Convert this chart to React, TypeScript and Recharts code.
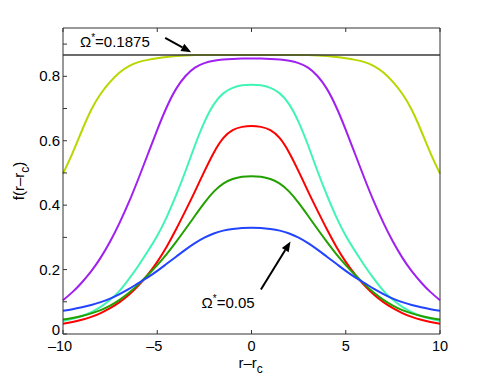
import React from "react";
import { LineChart, Line, XAxis, YAxis, ReferenceLine, ReferenceDot } from "recharts";

// r - r_c sample positions
const R = [
  -10, -9.5, -9, -8.5, -8, -7.5, -7, -6.5, -6, -5.5, -5, -4.5, -4, -3.5, -3, -2.5, -2, -1.5, -1, -0.5,
  0, 0.5, 1, 1.5, 2, 2.5, 3, 3.5, 4, 4.5, 5, 5.5, 6, 6.5, 7, 7.5, 8, 8.5, 9, 9.5, 10,
];

// profiles, widest (top) to narrowest (bottom)
const YELLOW = [
  0.498, 0.561, 0.631, 0.696, 0.746, 0.783, 0.812, 0.832, 0.844, 0.851, 0.856, 0.86, 0.863, 0.865, 0.866, 0.866, 0.866, 0.866, 0.866, 0.866,
  0.866, 0.866, 0.866, 0.866, 0.866, 0.866, 0.866, 0.865, 0.863, 0.86, 0.856, 0.851, 0.844, 0.832, 0.812, 0.783, 0.746, 0.696, 0.631, 0.561, 0.498,
];
const PURPLE = [
  0.105, 0.13, 0.16, 0.195, 0.237, 0.287, 0.345, 0.41, 0.482, 0.558, 0.634, 0.704, 0.761, 0.801, 0.827, 0.841, 0.848, 0.852, 0.854, 0.855,
  0.855, 0.855, 0.854, 0.852, 0.848, 0.841, 0.827, 0.801, 0.761, 0.704, 0.634, 0.558, 0.482, 0.41, 0.345, 0.287, 0.237, 0.195, 0.16, 0.13, 0.105,
];
const CYAN = [
  0.04, 0.047, 0.056, 0.068, 0.084, 0.106, 0.134, 0.171, 0.212, 0.257, 0.305, 0.363, 0.431, 0.506, 0.586, 0.658, 0.713, 0.747, 0.764, 0.772,
  0.774, 0.772, 0.764, 0.747, 0.713, 0.658, 0.586, 0.506, 0.431, 0.363, 0.305, 0.257, 0.212, 0.171, 0.134, 0.106, 0.084, 0.068, 0.056, 0.047, 0.04,
];
const RED = [
  0.032, 0.037, 0.044, 0.053, 0.065, 0.08, 0.099, 0.122, 0.15, 0.184, 0.224, 0.271, 0.325, 0.383, 0.443, 0.505, 0.563, 0.608, 0.633, 0.643,
  0.646, 0.643, 0.633, 0.608, 0.563, 0.505, 0.443, 0.383, 0.325, 0.271, 0.224, 0.184, 0.15, 0.122, 0.099, 0.08, 0.065, 0.053, 0.044, 0.037, 0.032,
];
const GREEN = [
  0.045, 0.05, 0.056, 0.064, 0.074, 0.088, 0.106, 0.128, 0.154, 0.183, 0.214, 0.248, 0.286, 0.326, 0.367, 0.407, 0.442, 0.467, 0.481, 0.488,
  0.49, 0.488, 0.481, 0.467, 0.442, 0.407, 0.367, 0.326, 0.286, 0.248, 0.214, 0.183, 0.154, 0.128, 0.106, 0.088, 0.074, 0.064, 0.056, 0.05, 0.045,
];
const BLUE = [
  0.072, 0.077, 0.083, 0.09, 0.099, 0.11, 0.124, 0.14, 0.158, 0.176, 0.196, 0.218, 0.24, 0.262, 0.282, 0.299, 0.312, 0.321, 0.326, 0.329,
  0.33, 0.329, 0.326, 0.321, 0.312, 0.299, 0.282, 0.262, 0.24, 0.218, 0.196, 0.176, 0.158, 0.14, 0.124, 0.11, 0.099, 0.09, 0.083, 0.077, 0.072,
];

const LIMIT = 0.866; // Ω* = 0.1875 level

const X_TICKS = [-10, -5, 0, 5, 10];
const X_TICK_LABELS = ["\u201310", "\u20135", "0", "5", "10"];
const Y_TICKS = [0, 0.1, 0.2, 0.3, 0.4, 0.5, 0.6, 0.7, 0.8, 0.9];
const Y_TICK_LABELS = ["0", "", "0.2", "", "0.4", "", "0.6", "", "0.8", ""];

const SERIES = [
  { key: "yellow", values: YELLOW, color: "#b9d600" },
  { key: "purple", values: PURPLE, color: "#a020f0" },
  { key: "cyan", values: CYAN, color: "#40f5b4" },
  { key: "red", values: RED, color: "#ff0000" },
  { key: "green", values: GREEN, color: "#22a000" },
  { key: "blue", values: BLUE, color: "#2244ff" },
];

const data = R.map((r, i) => {
  const row: Record<string, number> = { r };
  SERIES.forEach((s) => (row[s.key] = s.values[i]));
  return row;
});

const FONT = "'Liberation Sans', Arial, Helvetica, sans-serif";
const AXIS = "#333";

function Arrow(props: any) {
  const { x1, y1, x2, y2 } = props;
  const a = Math.atan2(y2 - y1, x2 - x1);
  const len = 10;
  const half = 4;
  const bx = x2 - len * Math.cos(a);
  const by = y2 - len * Math.sin(a);
  const pts = [
    [x2, y2],
    [bx + half * Math.sin(a), by - half * Math.cos(a)],
    [bx - half * Math.sin(a), by + half * Math.cos(a)],
  ]
    .map((p) => p.join(","))
    .join(" ");
  return (
    <g>
      <line x1={x1} y1={y1} x2={bx} y2={by} stroke="#000" strokeWidth={2} />
      <polygon points={pts} fill="#000" />
    </g>
  );
}

const omegaLabel = (value: string) => (props: any) => (
  <text x={props.cx} y={props.cy} fontFamily={FONT} fontSize={15} fill="#000">
    <tspan>Ω</tspan>
    <tspan dy={-6} fontSize={10}>*</tspan>
    <tspan dy={6}>={value}</tspan>
  </text>
);

function XTick(props: any) {
  const { x, y, payload, index } = props;
  const neg = payload.value < 0;
  return (
    <text x={x + (neg ? -3 : 0)} y={y + 15} textAnchor="middle" fontFamily={FONT} fontSize={14.5} fill="#000">
      {X_TICK_LABELS[index]}
    </text>
  );
}

function YTick(props: any) {
  const { x, y, payload, index } = props;
  const lift = payload.value === 0 ? -4 : 0;
  return (
    <text x={x} y={y + lift + 5} textAnchor="end" fontFamily={FONT} fontSize={15} fill="#000">
      {Y_TICK_LABELS[index]}
    </text>
  );
}

export default function App() {
  return (
    <div style={{ position: "absolute", left: 0, top: 0, background: "#fff" }}>
      <LineChart width={485} height={380} data={data} margin={{ top: 0, right: 0, bottom: 0, left: 0 }}>
        <XAxis
          dataKey="r"
          type="number"
          domain={[-10, 10]}
          ticks={X_TICKS}
          height={46}
          tickSize={-4}
          tickMargin={6}
          stroke={AXIS}
          tick={<XTick />}
          label={{
            content: (p: any) => {
              const vb = p.viewBox;
              const cx = vb.x + vb.width / 2;
              return (
                <text x={cx - 13} y={vb.y + 34} fontFamily={FONT} fontSize={15} fill="#000">
                  <tspan>r–r</tspan>
                  <tspan dy={5} fontSize={12}>c</tspan>
                </text>
              );
            },
          }}
        />
        <XAxis
          xAxisId="top"
          orientation="top"
          dataKey="r"
          type="number"
          domain={[-10, 10]}
          ticks={X_TICKS}
          tickFormatter={() => ""}
          height={28}
          tickSize={-4}
          stroke={AXIS}
        />
        <YAxis
          type="number"
          domain={[0, 0.95]}
          ticks={Y_TICKS}
          width={63}
          tickSize={-4}
          tickMargin={7}
          stroke={AXIS}
          tick={<YTick />}
          label={{
            content: () => (
              <text
                x={24}
                y={181}
                transform="rotate(-90, 24, 181)"
                textAnchor="middle"
                fontFamily={FONT}
                fontSize={15}
                fill="#000"
              >
                <tspan>f(r–r</tspan>
                <tspan dy={5} fontSize={12}>c</tspan>
                <tspan dy={-5}>)</tspan>
              </text>
            ),
          }}
        />
        <YAxis
          yAxisId="right"
          orientation="right"
          type="number"
          domain={[0, 0.95]}
          ticks={Y_TICKS}
          tickFormatter={() => ""}
          width={45}
          tickSize={-4}
          stroke={AXIS}
        />
        {SERIES.map((s) => (
          <Line
            key={s.key}
            dataKey={s.key}
            type="natural"
            stroke={s.color}
            strokeWidth={2}
            dot={false}
            isAnimationActive={false}
          />
        ))}
        <ReferenceLine y={LIMIT} stroke="#3a3a3a" strokeWidth={1.5} />
        <ReferenceLine
          segment={[
            { x: -4.58, y: 0.919 },
            { x: -3.2, y: 0.875 },
          ]}
          shape={Arrow}
          ifOverflow="visible"
        />
        <ReferenceLine
          segment={[
            { x: 0.5, y: 0.138 },
            { x: 2.07, y: 0.287 },
          ]}
          shape={Arrow}
          ifOverflow="visible"
        />
        <ReferenceDot x={-9.1} y={0.891} r={0} shape={omegaLabel("0.1875")} ifOverflow="visible" />
        <ReferenceDot x={-2.65} y={0.082} r={0} shape={omegaLabel("0.05")} ifOverflow="visible" />
      </LineChart>
    </div>
  );
}
